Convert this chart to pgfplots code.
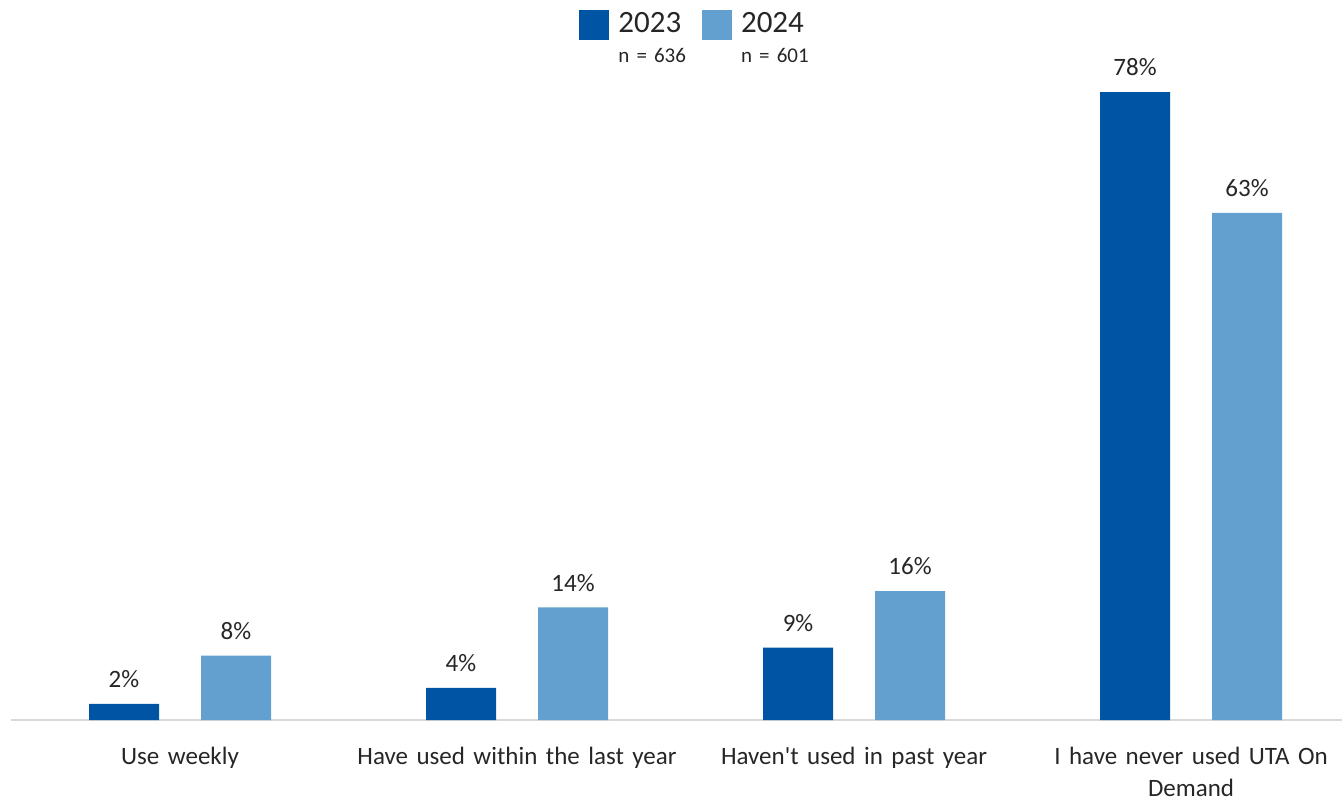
\documentclass[border=0pt]{standalone}
\usepackage{pgfplots}
\pgfplotsset{compat=1.18}
\usepackage{fontspec}
\setmainfont{Carlito}[Ligatures=TeXOff]
\newfontfamily\labelfont{Carlito}[Ligatures=TeXOff, WordSpace=1.5]
\definecolor{dark}{RGB}{0,84,164}
\definecolor{light}{RGB}{99,160,207}
\definecolor{txt}{RGB}{38,38,38}
\begin{document}
\begin{tikzpicture}[x=0.5pt,y=0.5pt]
\begin{axis}[
  at={(5.75pt,40pt)}, anchor=south west,
  scale only axis, width=665.25pt, height=342.125pt,
  xmin=-0.5, xmax=3.448, ymin=0, ymax=85,
  axis y line=none, axis x line*=bottom,
  x axis line style={draw=black!15, line width=1pt, -},
  ybar, bar width=35pt,
  xtick={0,1,2,3},
  xticklabels={Use weekly, Have used within the last year, Haven't used in past year, {I have never used UTA On\\Demand}},
  major tick length=0pt,
  xticklabel style={font=\labelfont\fontsize{12.5}{16}\selectfont, text=txt, align=center, yshift=-10pt},
  ytick=\empty,
  clip=false,
  nodes near coords={\pgfmathprintnumber[assume math mode=true]{\pgfplotspointmeta}\%},
  nodes near coords style={font=\fontsize{12.5}{15}\selectfont, text=txt, yshift=4.5pt},
  legend style={at={(0.5145,1.0406)}, anchor=north, draw=none, fill=none, inner sep=0pt,
    legend columns=2, nodes={align=left, text=txt, inner sep=2pt},
    /tikz/every odd column/.style={column sep=2.5pt},
    /tikz/every even column/.style={column sep=6pt}},
]
\addplot[bar shift=-28pt, fill=dark, draw=none,
  legend image code/.code={\fill[dark] (0pt,-0.5pt) rectangle (15pt,14.5pt);}]
  coordinates {(0,2) (1,4) (2,9) (3,78)};
\addlegendentry{\fontsize{15.5}{17}\selectfont 2023\\[3pt]\fontsize{10.5}{12}\selectfont n = 636}
\addplot[bar shift=28pt, fill=light, draw=none,
  legend image code/.code={\fill[light] (0pt,-0.5pt) rectangle (15pt,14.5pt);}]
  coordinates {(0,8) (1,14) (2,16) (3,63)};
\addlegendentry{\fontsize{15.5}{17}\selectfont 2024\\[3pt]\fontsize{10.5}{12}\selectfont n = 601}
\end{axis}
\pgfresetboundingbox
\path[use as bounding box] (0,0) rectangle (1342,800);
\end{tikzpicture}
\end{document}
